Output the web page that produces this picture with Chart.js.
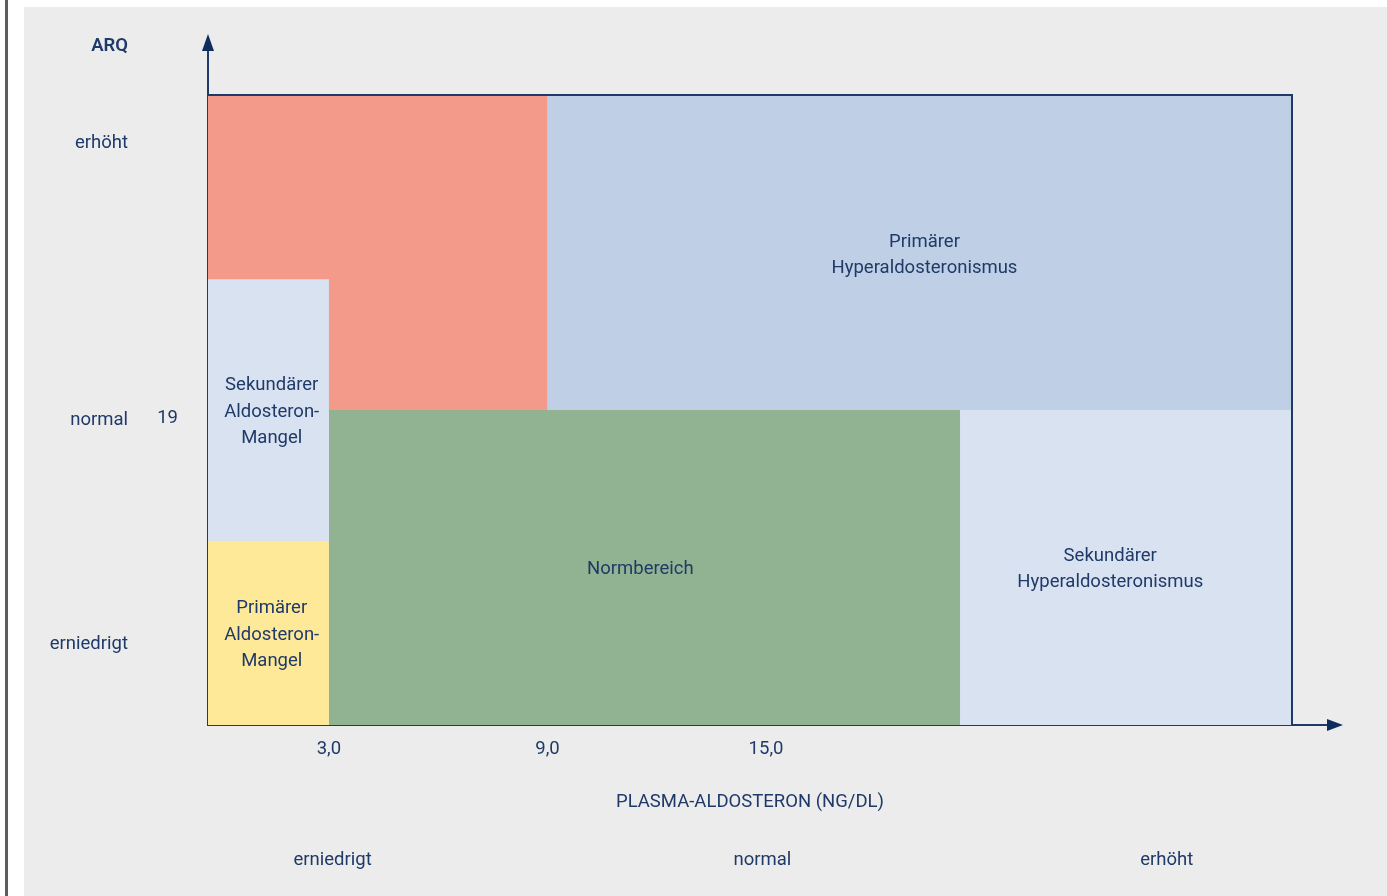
<!DOCTYPE html>
<html lang="de">
<head>
<meta charset="utf-8">
<title>ARQ / Plasma-Aldosteron</title>
<script src="https://cdn.jsdelivr.net/npm/chart.js@4.4.1/dist/chart.umd.min.js"></script>
<style>
  html, body { margin: 0; padding: 0; background: #ffffff; }
  body { width: 1387px; height: 896px; position: relative; overflow: hidden; }
  #edge { position: absolute; left: 5px; top: 0; width: 3px; height: 896px; background: #5e5e5e; }
  #panel { position: absolute; left: 24px; top: 7px; width: 1363px; height: 889px; background: #ececec; }
</style>
</head>
<body>
<div id="edge"></div>
<div id="panel"><canvas id="arqChart"></canvas></div>
<script>
// Schematic axis ranges
const xRange = [-0.32, 29.44];
const yRange = [0, 39];
const xTicks = [3, 9, 15];
const yTicks = [19];

// Category labels along the axes
const xCategories = ['erniedrigt', 'normal', 'erhöht'];
const xCategoryAt = [3.1, 14.9, 26.0];
const yCategories = ['erhöht', 'normal', 'erniedrigt'];
const yCategoryAt = [36.1, 19, 5.1];

// Regions, bottom layer first (upper layers cover the lower ones)
const regionNames = [
    'Primärer Hyperaldosteronismus',
    'Sekundärer Hyperaldosteronismus',
    'ARQ erhöht, Aldosteron erniedrigt/normal',
    'Normbereich',
    'Primärer Aldosteron-Mangel',
    'Sekundärer Aldosteron-Mangel'
];
const regionX0 = [-0.32, -0.32, -0.32, 3, -0.32, -0.32];
const regionX1 = [29.44, 29.44, 9, 20.33, 3, 3];
const regionY0 = [19.5, 0, 19.5, 0, 0, 11.4];
const regionY1 = [39, 19.5, 39, 19.5, 11.4, 27.6];

// Region captions
const captionLines = [
    ['Primärer', 'Hyperaldosteronismus'],
    ['Sekundärer', 'Hyperaldosteronismus'],
    [],
    ['Normbereich'],
    ['Primärer', 'Aldosteron-', 'Mangel'],
    ['Sekundärer', 'Aldosteron-', 'Mangel']
];
const captionX = [19.35, 24.45, 0, 11.55, 1.43, 1.43];
const captionY = [29.2, 9.75, 0, 9.75, 5.7, 19.5];

const regionColors = ['#bfd0e6', '#d9e2f1', '#f39a8a', '#91b391', '#fde998', '#d9e2f1'];
const navy = '#1f3a68';
const textFont = 'Roboto, "Noto Sans", sans-serif';
const fontSize = 18.5;

// Build the region datasets: top edge, filled down to the lower bound
const datasets = regionNames.map((name, i) => ({
    label: name,
    data: [{ x: regionX0[i], y: regionY1[i] }, { x: regionX1[i], y: regionY1[i] }],
    fill: { value: regionY0[i] },
    backgroundColor: regionColors[i],
    borderWidth: 0,
    pointRadius: 0,
    order: 10 - i
}));

// Outline on the top and right sides of the plot
datasets.push({
    label: 'Rahmen',
    data: [
        { x: xRange[0], y: yRange[1] },
        { x: xRange[1], y: yRange[1] },
        { x: xRange[1], y: yRange[0] }
    ],
    fill: false,
    borderColor: navy,
    borderWidth: 2,
    pointRadius: 0,
    clip: false,
    order: 0
});

// Texts and arrows drawn through the scales
const annotations = {
    id: 'annotations',
    afterDraw(chart) {
        const ctx = chart.ctx;
        const area = chart.chartArea;
        const xs = chart.scales.x;
        const ys = chart.scales.y;
        ctx.save();

        // axis arrows
        ctx.strokeStyle = navy;
        ctx.fillStyle = '#0f2d5c';
        ctx.lineWidth = 2;
        ctx.beginPath();
        ctx.moveTo(area.left, area.top);
        ctx.lineTo(area.left, area.top - 46);
        ctx.moveTo(area.right, area.bottom);
        ctx.lineTo(area.right + 38, area.bottom);
        ctx.stroke();
        ctx.beginPath();
        ctx.moveTo(area.left, area.top - 61);
        ctx.lineTo(area.left - 6, area.top - 44);
        ctx.lineTo(area.left + 6, area.top - 44);
        ctx.closePath();
        ctx.fill();
        ctx.beginPath();
        ctx.moveTo(area.right + 51, area.bottom);
        ctx.lineTo(area.right + 35, area.bottom - 6);
        ctx.lineTo(area.right + 35, area.bottom + 6);
        ctx.closePath();
        ctx.fill();

        // region captions
        ctx.fillStyle = navy;
        ctx.font = fontSize + 'px ' + textFont;
        ctx.textAlign = 'center';
        ctx.textBaseline = 'middle';
        const lineH = 26.5;
        captionLines.forEach((lines, i) => {
            const cx = xs.getPixelForValue(captionX[i]);
            const cy = ys.getPixelForValue(captionY[i]) + 2;
            lines.forEach((t, j) => {
                ctx.fillText(t, cx, cy + (j - (lines.length - 1) / 2) * lineH);
            });
        });

        // y categories
        ctx.textAlign = 'right';
        yCategories.forEach((t, i) => {
            ctx.fillText(t, area.left - 80, ys.getPixelForValue(yCategoryAt[i]) + 2);
        });
        ctx.font = '600 ' + fontSize + 'px ' + textFont;
        ctx.fillText('ARQ', area.left - 80, area.top - 49);

        // x title and categories
        ctx.font = fontSize + 'px ' + textFont;
        ctx.textAlign = 'center';
        ctx.fillText('PLASMA-ALDOSTERON (NG/DL)', (area.left + area.right) / 2, area.bottom + 77);
        xCategories.forEach((t, i) => {
            ctx.fillText(t, xs.getPixelForValue(xCategoryAt[i]), area.bottom + 135);
        });
        ctx.restore();
    }
};

const chart = new Chart(document.getElementById('arqChart'), {
    type: 'line',
    data: { datasets: datasets },
    options: {
        responsive: true,
        maintainAspectRatio: false,
        animation: false,
        layout: { padding: { top: 88, right: 95, left: 0, bottom: 0 } },
        plugins: {
            legend: { display: false },
            tooltip: { enabled: false }
        },
        scales: {
            x: {
                type: 'linear',
                min: xRange[0],
                max: xRange[1],
                afterBuildTicks: scale => { scale.ticks = xTicks.map(v => ({ value: v })); },
                afterFit: scale => { scale.height = 171; },
                grid: { display: false, drawTicks: false },
                border: { display: true, color: navy, width: 2 },
                ticks: {
                    padding: 13,
                    color: navy,
                    font: { family: textFont, size: fontSize },
                    maxRotation: 0,
                    callback: v => v.toFixed(1).replace('.', ',')
                }
            },
            y: {
                type: 'linear',
                min: yRange[0],
                max: yRange[1],
                afterBuildTicks: scale => { scale.ticks = yTicks.map(v => ({ value: v })); },
                afterFit: scale => { scale.width = 184; },
                grid: { display: false, drawTicks: false },
                border: { display: true, color: navy, width: 2 },
                ticks: {
                    padding: 30,
                    color: navy,
                    font: { family: textFont, size: fontSize },
                    callback: v => String(v)
                }
            }
        }
    },
    plugins: [annotations]
});
</script>
</body>
</html>
